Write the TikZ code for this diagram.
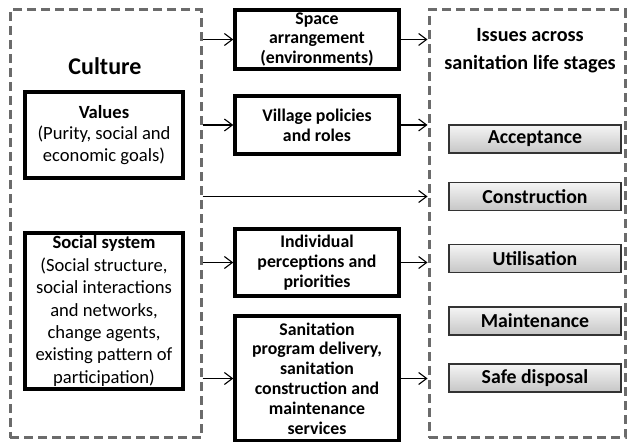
\documentclass[tikz,border=0pt]{standalone}
\usepackage{fontspec}
\setmainfont{Carlito}
\usetikzlibrary{arrows.meta}

\begin{document}
\begin{tikzpicture}[x=1pt,y=1pt,>={Straight Barb[length=8pt,width=12pt]},
  dashbox/.style={draw=black!58, line width=3pt, dash pattern=on 9pt off 5pt},
  bigbox/.style={draw, line width=3.4pt, align=center, inner sep=0pt},
  midbox/.style={draw, line width=3.4pt, align=center, inner sep=0pt,
      minimum width=164pt, font=\bfseries\fontsize{17.8}{19.8}\selectfont},
  stagebox/.style={draw=black!80, line width=1.4pt, top color=gray!8, bottom color=gray!45,
      minimum width=172pt, minimum height=28pt, inner sep=0pt,
      font=\bfseries\fontsize{19.8}{22}\selectfont},
  link/.style={->, line width=1.1pt}]
\useasboundingbox (0,0) rectangle (627,442);

% left and right frames
\node[dashbox, minimum width=191pt, minimum height=428pt] (culture) at (105.5,218) {};
\node[dashbox, minimum width=196pt, minimum height=428pt] (issues) at (527,218) {};
\node[font=\bfseries\fontsize{24}{26}\selectfont] (culturetitle) at (105,376) {Culture};
\node[align=center, font=\bfseries\fontsize{20.2}{28}\selectfont] (issuestitle) at (530,391)
  {Issues across\\sanitation life stages};

% culture parts
\node[bigbox, minimum width=158pt, minimum height=86pt,
  font=\fontsize{18.6}{21.8}\selectfont] (values) at (104,307)
  {\textbf{Values}\\(Purity, social and\\economic goals)};
\node[bigbox, minimum width=158pt, minimum height=156pt,
  font=\fontsize{18.6}{22.4}\selectfont] (social) at (104,131)
  {\textbf{Social system}\\(Social structure,\\social interactions\\and networks,\\change agents,\\existing pattern of\\participation)};

% factors in the middle
\node[midbox, minimum height=59pt] (space) at (317,402.5) {Space\\arrangement\\(environments)};
\node[midbox, minimum height=58pt] (village) at (317,317) {Village policies\\and roles};
\node[midbox, minimum height=67pt] (individual) at (317,179.5) {Individual\\perceptions and\\priorities};
\node[midbox, minimum height=125pt] (program) at (317,63.5)
  {Sanitation\\program delivery,\\sanitation\\construction and\\maintenance\\services};

% life stages
\node[stagebox] (acceptance) at (535,303) {Acceptance};
\node[stagebox] (construction) at (535,245.5) {Construction};
\node[stagebox] (utilisation) at (535,183.5) {Utilisation};
\node[stagebox] (maintenance) at (535,121) {Maintenance};
\node[stagebox] (disposal) at (535,64) {Safe disposal};

% arrows
\foreach \f in {space,village,individual,program}{
  \draw[link] (culture.east |- \f.west) -- (\f.west);
  \draw[link] (\f.east) -- (issues.west |- \f.east);
}
\draw[link] (culture.east |- construction) -- (issues.west |- construction);
\end{tikzpicture}
\end{document}
